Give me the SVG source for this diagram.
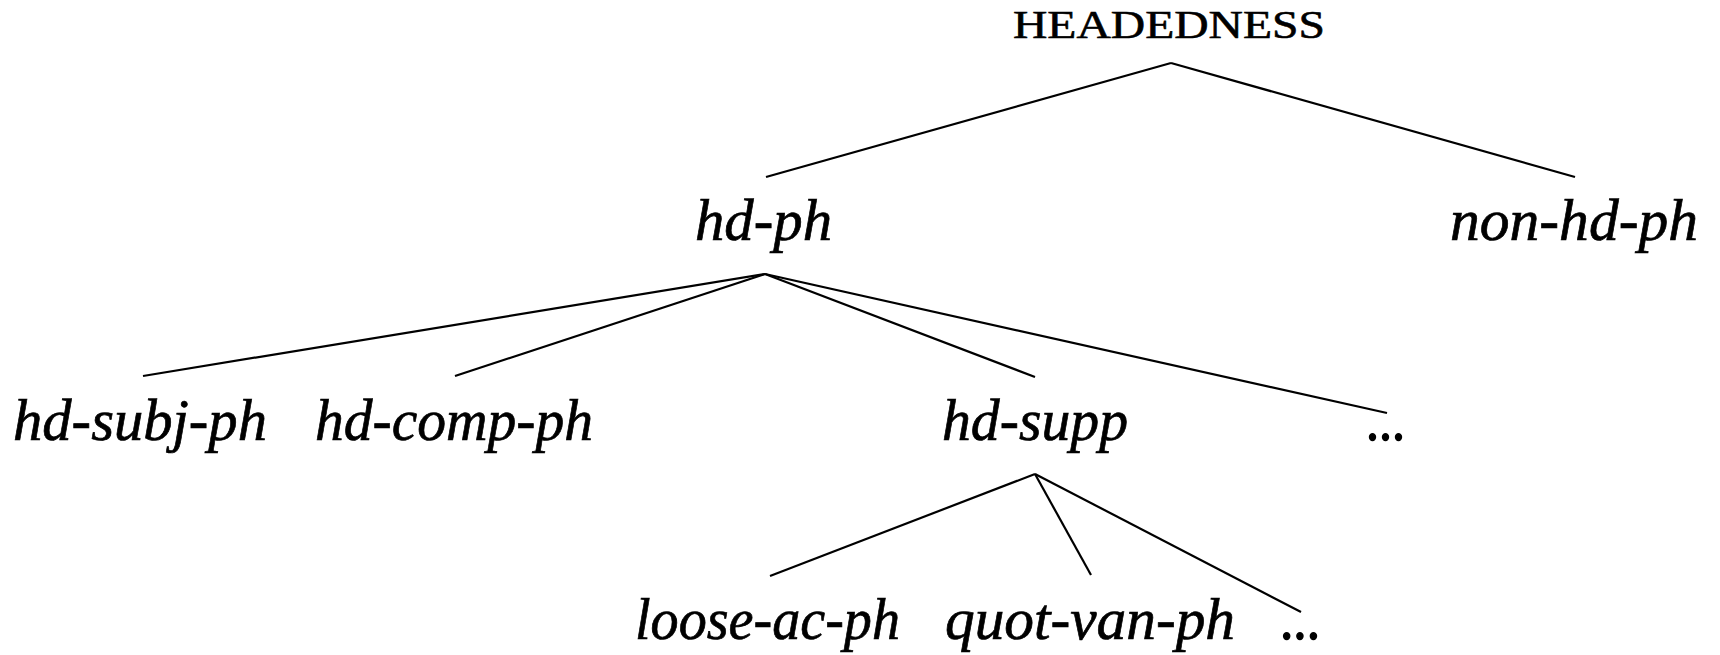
<svg xmlns="http://www.w3.org/2000/svg" width="1720" height="655" viewBox="0 0 1720 655">
  <style>
    .bg { fill: #ffffff; }
    .edge { stroke: #000000; stroke-width: 2.2; fill: none; stroke-linecap: butt; }
    .sc { font-family: "Liberation Serif", "Times New Roman", serif; font-size: 40px; fill: #000000; stroke: #000000; stroke-width: 0.6; }
    .lbl { font-family: "Liberation Serif", "Times New Roman", serif; font-style: italic; font-size: 59px; fill: #000000; stroke: #000000; stroke-width: 0.7; }
    .dots { font-family: "Liberation Serif", "Times New Roman", serif; font-size: 58px; fill: #000000; stroke: #000000; stroke-width: 1.4; }
  </style>
  <rect class="bg" x="0" y="0" width="1720" height="655"/>

  <!-- tree branches -->
  <g id="connectors">
    <line class="edge" x1="1171" y1="63" x2="766" y2="177"/>
    <line class="edge" x1="1171" y1="63" x2="1575" y2="177"/>
    <line class="edge" x1="765" y1="274" x2="143" y2="376"/>
    <line class="edge" x1="765" y1="274" x2="455" y2="376"/>
    <line class="edge" x1="765" y1="274" x2="1035" y2="377"/>
    <line class="edge" x1="765" y1="274" x2="1387" y2="413"/>
    <line class="edge" x1="1035" y1="474" x2="770" y2="576"/>
    <line class="edge" x1="1035" y1="474" x2="1091" y2="575"/>
    <line class="edge" x1="1035" y1="474" x2="1301" y2="612"/>
  </g>

  <g id="headedness">
    <text class="sc" x="1013" y="38" textLength="312" lengthAdjust="spacingAndGlyphs">HEADEDNESS</text>
  </g>
  <g id="hd-ph">
    <text class="lbl" x="695" y="240" textLength="137" lengthAdjust="spacingAndGlyphs">hd-ph</text>
  </g>
  <g id="non-hd-ph">
    <text class="lbl" x="1450" y="240" textLength="248" lengthAdjust="spacingAndGlyphs">non-hd-ph</text>
  </g>
  <g id="hd-subj-ph">
    <text class="lbl" x="13" y="440" textLength="254" lengthAdjust="spacingAndGlyphs">hd-subj-ph</text>
  </g>
  <g id="hd-comp-ph">
    <text class="lbl" x="315" y="440" textLength="278" lengthAdjust="spacingAndGlyphs">hd-comp-ph</text>
  </g>
  <g id="hd-supp">
    <text class="lbl" x="942" y="440" textLength="186" lengthAdjust="spacingAndGlyphs">hd-supp</text>
  </g>
  <g id="more-hd-ph">
    <text class="dots" x="1366" y="440" textLength="39" lengthAdjust="spacingAndGlyphs">...</text>
  </g>
  <g id="loose-ac-ph">
    <text class="lbl" x="635" y="639" textLength="265" lengthAdjust="spacingAndGlyphs">loose-ac-ph</text>
  </g>
  <g id="quot-van-ph">
    <text class="lbl" x="945" y="639" textLength="290" lengthAdjust="spacingAndGlyphs">quot-van-ph</text>
  </g>
  <g id="more-hd-supp">
    <text class="dots" x="1280" y="639" textLength="40" lengthAdjust="spacingAndGlyphs">...</text>
  </g>
</svg>
